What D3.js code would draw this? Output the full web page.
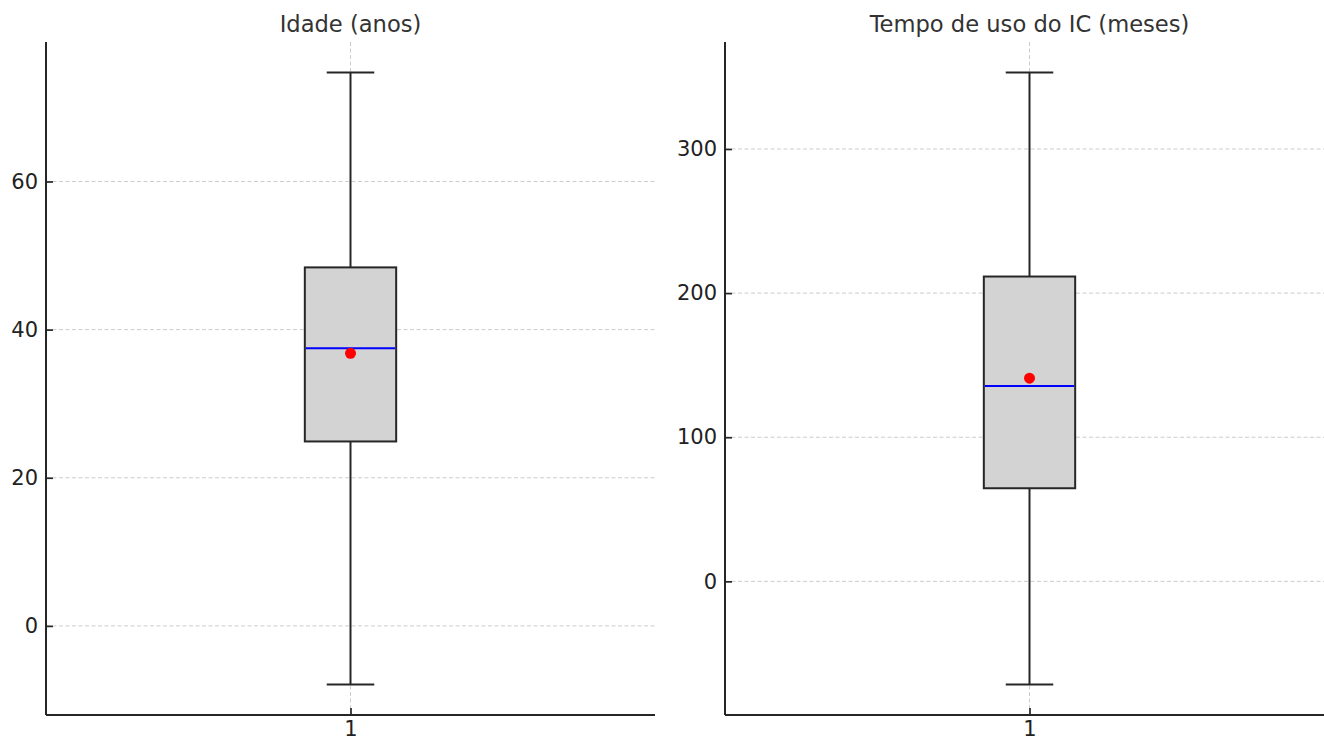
<!DOCTYPE html>
<html>
<head>
<meta charset="utf-8">
<script src="https://cdn.jsdelivr.net/npm/d3@7"></script>
<style>
  html, body { margin: 0; padding: 0; background: #fff; }
  svg { display: block; font-family: "DejaVu Sans", sans-serif; }
</style>
</head>
<body>
<svg id="chart" width="1324" height="739"></svg>
<script>
// ---- data ----
const titles = ["Idade (anos)", "Tempo de uso do IC (meses)"];
const categories = ["1"];
const whiskerLow  = [-7.9, -71.5];
const q1          = [24.9, 64.6];
const median      = [37.5, 135.6];
const q3          = [48.4, 211.5];
const whiskerHigh = [74.7, 353.0];
const means       = [36.8, 141.0];
const yTicks = [[0, 20, 40, 60], [0, 100, 200, 300]];

// ---- layout ----
const svg = d3.select("#chart");
const panelLeft = [46, 725];
const panelWidth = 609;
const plotTop = 42, plotBottom = 715;
const boxWidth = 0.15, capWidth = 0.078;
const dark = "#262626";

titles.forEach((title, i) => {
  const g = svg.append("g");
  const lo = whiskerLow[i], hi = whiskerHigh[i], r = hi - lo;
  const y = d3.scaleLinear().domain([lo - 0.05 * r, hi + 0.05 * r]).range([plotBottom, plotTop]);
  const x = d3.scaleLinear().domain([0.5, 1.5]).range([panelLeft[i], panelLeft[i] + panelWidth]);

  // horizontal grid
  g.append("g").selectAll("line").data(yTicks[i]).join("line")
    .attr("x1", x(0.5)).attr("x2", x(1.5))
    .attr("y1", d => y(d)).attr("y2", d => y(d))
    .attr("stroke", "#cccccc").attr("stroke-width", 1)
    .attr("stroke-dasharray", "4,2.5");
  // vertical grid at category
  g.append("g").selectAll("line").data(categories).join("line")
    .attr("x1", (d, k) => x(k + 1)).attr("x2", (d, k) => x(k + 1))
    .attr("y1", plotTop).attr("y2", plotBottom)
    .attr("stroke", "#cccccc").attr("stroke-width", 1)
    .attr("stroke-dasharray", "4,2.5");

  const cx = x(1);
  // whiskers
  g.append("line").attr("x1", cx).attr("x2", cx).attr("y1", y(q3[i])).attr("y2", y(hi))
    .attr("stroke", dark).attr("stroke-width", 2);
  g.append("line").attr("x1", cx).attr("x2", cx).attr("y1", y(q1[i])).attr("y2", y(lo))
    .attr("stroke", dark).attr("stroke-width", 2);
  // caps
  [hi, lo].forEach(v => {
    g.append("line")
      .attr("x1", x(1 - capWidth / 2)).attr("x2", x(1 + capWidth / 2))
      .attr("y1", y(v)).attr("y2", y(v))
      .attr("stroke", dark).attr("stroke-width", 2);
  });
  // box
  g.append("rect")
    .attr("x", x(1 - boxWidth / 2)).attr("width", x(1 + boxWidth / 2) - x(1 - boxWidth / 2))
    .attr("y", y(q3[i])).attr("height", y(q1[i]) - y(q3[i]))
    .attr("fill", "#d3d3d3").attr("stroke", dark).attr("stroke-width", 2);
  // median
  g.append("line")
    .attr("x1", x(1 - boxWidth / 2) + 1).attr("x2", x(1 + boxWidth / 2) - 1)
    .attr("y1", y(median[i])).attr("y2", y(median[i]))
    .attr("stroke", "#0000ff").attr("stroke-width", 2);
  // mean
  g.append("circle").attr("cx", cx).attr("cy", y(means[i])).attr("r", 5.5).attr("fill", "#ff0000");

  // axes
  const yAxis = d3.axisLeft(y).tickValues(yTicks[i]).tickSizeInner(-7).tickSizeOuter(0).tickPadding(8)
    .tickFormat(d3.format("d"));
  const ya = g.append("g").attr("transform", `translate(${x(0.5)},0)`).call(yAxis);
  ya.select(".domain").attr("d", `M0,${plotTop}V${plotBottom}`).attr("stroke", dark).attr("stroke-width", 2);
  ya.selectAll(".tick line").attr("stroke", dark).attr("stroke-width", 1.7);
  ya.selectAll(".tick text").attr("font-size", 21).attr("fill", "#222")
    .attr("font-family", "DejaVu Sans, sans-serif").attr("x", -8);

  const xAxis = d3.axisBottom(x).tickValues([1]).tickSizeInner(-7).tickSizeOuter(0).tickPadding(8)
    .tickFormat((d, k) => categories[k]);
  const xa = g.append("g").attr("transform", `translate(0,${plotBottom})`).call(xAxis);
  xa.select(".domain").attr("d", `M${x(0.5)},0H${x(1.5)}`).attr("stroke", dark).attr("stroke-width", 2);
  xa.selectAll(".tick line").attr("stroke", dark).attr("stroke-width", 1.7);
  xa.selectAll(".tick text").attr("font-size", 21).attr("fill", "#222")
    .attr("font-family", "DejaVu Sans, sans-serif").attr("y", 6).attr("dy", "0.71em");

  // title
  g.append("text").attr("x", cx).attr("y", 32).attr("text-anchor", "middle")
    .attr("font-size", 22.6).attr("fill", "#333").text(title);
});
</script>
</body>
</html>
